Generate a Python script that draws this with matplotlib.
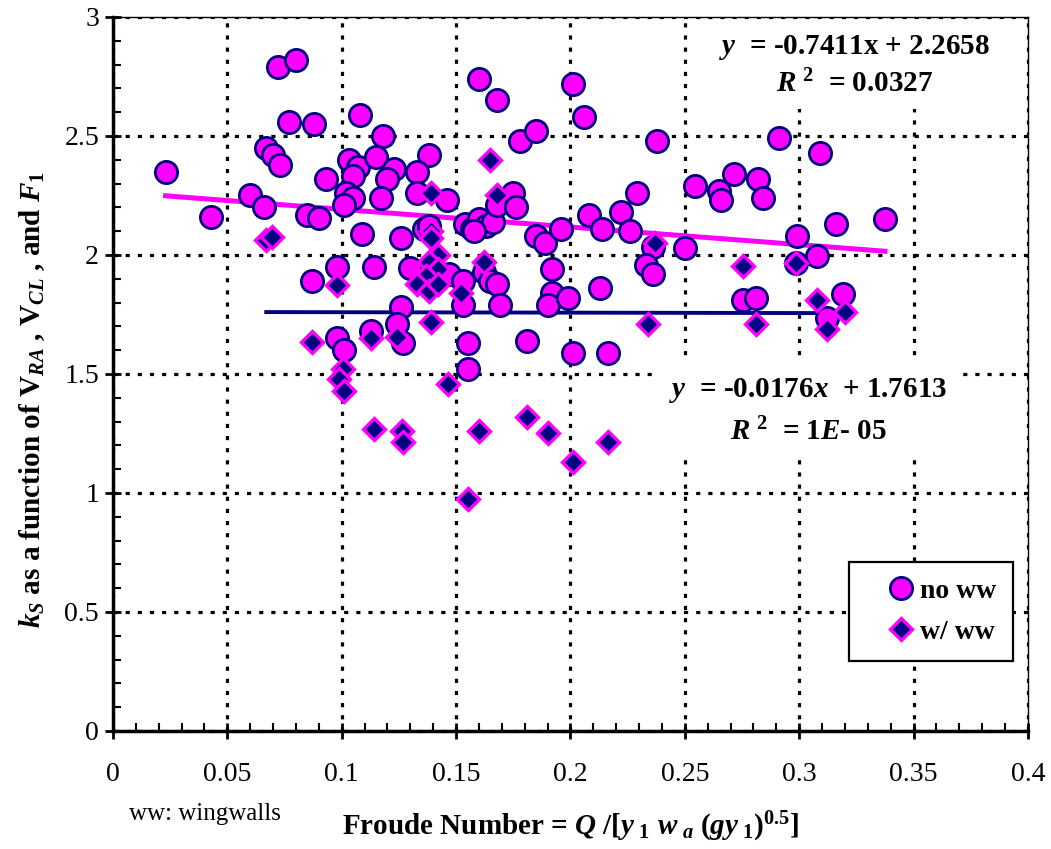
import numpy as np
import matplotlib
matplotlib.use("Agg")
import matplotlib.pyplot as plt
from matplotlib.ticker import MultipleLocator

plt.rcParams['font.family'] = 'Liberation Serif'
plt.rcParams['mathtext.fontset'] = 'custom'
plt.rcParams['mathtext.rm'] = 'Liberation Serif:bold'
plt.rcParams['mathtext.bf'] = 'Liberation Serif:bold'
plt.rcParams['mathtext.it'] = 'Liberation Serif:bold:italic'

# k_S vs Froude number, no wingwalls
no_ww_x = [0.023, 0.043, 0.060, 0.072, 0.080, 0.077, 0.088, 0.067, 0.070, 0.073,
           0.066, 0.093, 0.085, 0.090, 0.108, 0.118, 0.103, 0.107, 0.105, 0.115,
           0.123, 0.120, 0.138, 0.133, 0.102, 0.105, 0.101, 0.117, 0.133, 0.146,
           0.109, 0.126, 0.136, 0.138, 0.098, 0.087, 0.114, 0.130, 0.147,
           0.154, 0.157, 0.160, 0.163, 0.166, 0.158,
           0.168, 0.175, 0.176, 0.178, 0.185, 0.160, 0.168, 0.201, 0.206,
           0.185, 0.189, 0.196, 0.208, 0.214, 0.222, 0.226, 0.229, 0.238,
           0.236, 0.233, 0.236, 0.250,
           0.2545, 0.265, 0.266, 0.2715, 0.282, 0.284, 0.291, 0.309, 0.316, 0.3375,
           0.299, 0.308, 0.2985,
           0.319, 0.312, 0.2755, 0.281,
           0.153, 0.162, 0.165, 0.168, 0.169, 0.153, 0.192, 0.192, 0.190, 0.199, 0.213,
           0.126, 0.124, 0.127, 0.113, 0.098, 0.101, 0.155, 0.155, 0.181, 0.201, 0.2165]
no_ww_y = [2.35, 2.16, 2.25, 2.79, 2.82, 2.56, 2.55, 2.45, 2.42, 2.38,
           2.20, 2.32, 2.17, 2.155, 2.59, 2.50, 2.40, 2.37, 2.33, 2.41,
           2.36, 2.32, 2.42, 2.35, 2.26, 2.24, 2.21, 2.24, 2.26, 2.23,
           2.09, 2.07, 2.11, 2.12, 1.95, 1.89, 1.95, 1.945, 1.92,
           2.13, 2.11, 2.15, 2.12, 2.14, 2.10,
           2.21, 2.26, 2.20, 2.48, 2.52, 2.74, 2.65, 2.72, 2.58,
           2.08, 2.05, 2.11, 2.17, 2.11, 2.18, 2.10, 2.26, 2.48,
           2.035, 1.96, 1.92, 2.03,
           2.29, 2.27, 2.23, 2.34, 2.32, 2.24, 2.49, 2.43, 2.13, 2.15,
           2.08, 1.995, 1.965,
           1.835, 1.735, 1.81, 1.82,
           1.89, 1.93, 1.89, 1.88, 1.79, 1.79, 1.94, 1.84, 1.79, 1.82, 1.86,
           1.78, 1.71, 1.63, 1.68, 1.65, 1.60, 1.63, 1.52, 1.64, 1.59, 1.59]

# with wingwalls
ww_x = [0.067, 0.0695, 0.139, 0.139, 0.139, 0.165, 0.168, 0.098, 0.142, 0.138,
        0.142, 0.137, 0.133, 0.138, 0.142, 0.152, 0.162, 0.139, 0.113, 0.124,
        0.237, 0.234, 0.2755, 0.281, 0.2985, 0.308, 0.312, 0.320, 0.087, 0.1005,
        0.099, 0.101, 0.1465, 0.114, 0.1265, 0.127, 0.160, 0.181, 0.190, 0.201,
        0.2165, 0.155]
ww_y = [2.065, 2.075, 2.26, 2.10, 2.07, 2.40, 2.25, 1.875, 2.00, 1.97,
        1.94, 1.91, 1.88, 1.85, 1.88, 1.84, 1.97, 1.72, 1.65, 1.655,
        2.05, 1.71, 1.955, 1.71, 1.965, 1.81, 1.69, 1.76, 1.635, 1.52,
        1.48, 1.43, 1.46, 1.27, 1.26, 1.215, 1.26, 1.32, 1.25, 1.13,
        1.215, 0.975]

# linear fits shown on the chart (slope, intercept)
fit_no_ww = (-0.7411, 2.2658)
fit_ww = (-0.0176, 1.7613)

magenta = '#FF00FF'
navy = '#000080'

fig = plt.figure(figsize=(10.51, 8.49), dpi=100)
ax = fig.add_axes([0.1075, 0.139, 0.8705, 0.841])

ax.set_xlim(0, 0.4)
ax.set_ylim(0, 3)
ax.xaxis.set_major_locator(MultipleLocator(0.05))
ax.xaxis.set_minor_locator(MultipleLocator(0.01))
ax.yaxis.set_major_locator(MultipleLocator(0.5))
ax.yaxis.set_minor_locator(MultipleLocator(0.1))
ax.xaxis.set_major_formatter(plt.FuncFormatter(lambda v, p: f"{v:g}"))
ax.yaxis.set_major_formatter(plt.FuncFormatter(lambda v, p: f"{v:g}"))
ax.tick_params(which='major', direction='inout', length=12, width=2, labelsize=20, pad=16)
ax.tick_params(which='minor', direction='in', length=6, width=1.5)
ax.tick_params(axis='y', which='major', pad=4)

ax.grid(True, which='major', color='black', linewidth=2.3, linestyle=(0, (1.3, 2.5)))
ax.set_axisbelow(True)
for s in ['left', 'bottom']:
    ax.spines[s].set_linewidth(2.5)
for s in ['top', 'right']:
    ax.spines[s].set_linewidth(1)

# trend lines from the fitted equations over each series' range
xa = np.array([min(no_ww_x), max(no_ww_x)])
ax.plot(xa, fit_no_ww[0] * xa + fit_no_ww[1], color=magenta, lw=3.6, zorder=2)
xb = np.array([min(ww_x), max(ww_x)])
ax.plot(xb, fit_ww[0] * xb + fit_ww[1], color=navy, lw=2.8, zorder=2)

ax.plot(no_ww_x, no_ww_y, 'o', ms=16, mfc=magenta, mec=navy, mew=2, label='no ww', zorder=3)
ax.plot(ww_x, ww_y, 'D', ms=11, mfc=navy, mec=magenta, mew=2.4, label='w/ ww', zorder=4)

box = dict(facecolor='white', edgecolor='none', pad=8)
ax.text(0.811, 0.978, r'$y$  = -0.7411x + 2.2658' + '\n' + r'$R^{\ 2}$  = 0.0327',
        transform=ax.transAxes, ha='center', va='top', fontsize=21, fontweight='bold',
        linespacing=1.35, bbox=box, zorder=1.5)
ax.text(0.76, 0.497, r'$y$  = -0.0176$x$  + 1.7613' + '\n' + r'$R^{\ 2}$  = 1$E$- 05',
        transform=ax.transAxes, ha='center', va='top', fontsize=21, fontweight='bold',
        linespacing=1.55, bbox=box, zorder=1.5)

leg = ax.legend(loc='upper right', bbox_to_anchor=(0.9836, 0.237), fancybox=False,
                framealpha=1, edgecolor='black', prop={'weight': 'bold', 'size': 20},
                handletextpad=-0.55, borderpad=0.6, labelspacing=0.55, handlelength=2.5,
                borderaxespad=0.0)
leg.get_frame().set_linewidth(1.6)

ax.set_ylabel(r'$k_S$ as a function of $\mathrm{V}_{RA}$ , $\mathrm{V}_{CL}$ , and $F_{1}$',
              fontsize=21, fontweight='bold')
ax.yaxis.set_label_coords(-0.072, 0.464)
ax.set_xlabel(r'Froude Number = $Q$ /[$y_{\ 1}\ w_{\ a}$ ($gy_{\ 1}$)$^{\mathrm{0.5}}$]',
              fontsize=21, fontweight='bold', labelpad=17)
fig.text(0.195, 0.041, 'ww: wingwalls', fontsize=18, ha='center', va='center')

fig.savefig('out.png', dpi=100)
